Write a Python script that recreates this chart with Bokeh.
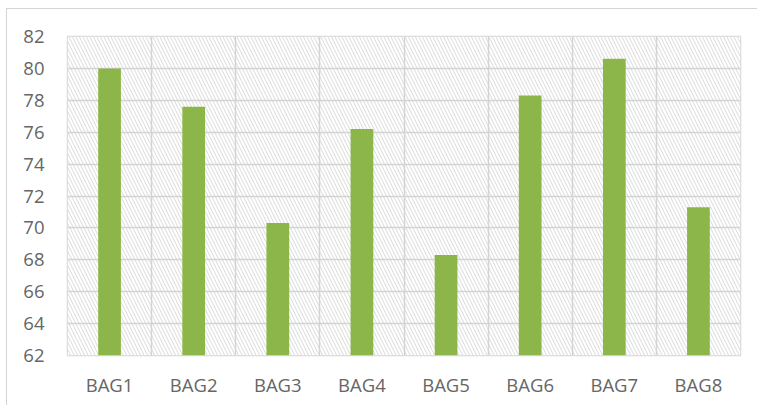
from bokeh.plotting import figure
from bokeh.models import ColumnDataSource, FixedTicker, Range1d
from bokeh.embed import file_html
from bokeh.resources import INLINE

categories = ["BAG1", "BAG2", "BAG3", "BAG4", "BAG5", "BAG6", "BAG7", "BAG8"]
values = [80.0, 77.6, 70.3, 76.2, 68.3, 78.3, 80.6, 71.3]
y_ticks = [62, 64, 66, 68, 70, 72, 74, 76, 78, 80, 82]

src = ColumnDataSource(dict(cat=categories, val=values))

p = figure(x_range=categories, y_range=Range1d(62, 82),
           width=751, height=397, output_backend="svg", toolbar_location=None,
           min_border_left=60, min_border_top=27, min_border_right=18, min_border_bottom=51)
p.styles = {"margin-left": "6px", "margin-top": "8px",
            "border-left": "1px solid #d4d4d4", "border-top": "1px solid #d4d4d4"}

# hatched plot background
bg = p.quad(left=[0], right=[len(categories)], bottom=[62], top=[82],
            fill_color="white", line_color=None,
            hatch_pattern="\\", hatch_color="#d9d9d9", hatch_scale=7, hatch_weight=1)
bg.level = "image"

p.vbar(x="cat", top="val", bottom=62, width=0.27, source=src,
       fill_color="#8cb64a", line_color=None)

p.yaxis.ticker = FixedTicker(ticks=y_ticks)
p.ygrid.ticker = FixedTicker(ticks=y_ticks)
p.xgrid.ticker = FixedTicker(ticks=[0, 1, 2, 3, 4, 5, 6, 7, 8])
for g in (p.xgrid, p.ygrid):
    g.grid_line_color = "#d4d4d4"
    g.grid_line_width = 1.5

for ax in (p.xaxis, p.yaxis):
    ax.axis_line_color = None
    ax.major_tick_line_color = None
    ax.minor_tick_line_color = None
    ax.major_label_text_color = "#666666"
    ax.major_label_text_font = "Open Sans"
    ax.major_label_text_font_size = "18.5px"
p.yaxis.major_label_standoff = 17
p.xaxis.major_label_standoff = 10
p.outline_line_color = "#d4d4d4"
p.outline_line_width = 1.5

open("out.html", "w").write(file_html(p, INLINE))
